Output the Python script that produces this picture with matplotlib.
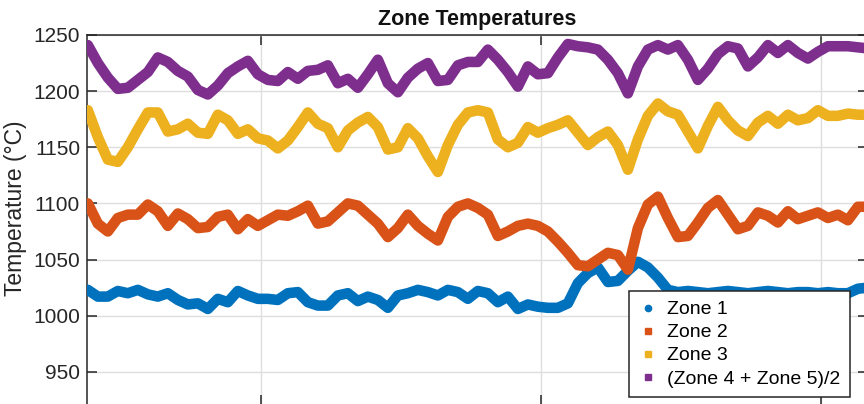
import numpy as np
import matplotlib
matplotlib.use("Agg")
import matplotlib.pyplot as plt
from matplotlib.lines import Line2D

plt.rcParams["font.family"] = ["Liberation Sans", "DejaVu Sans"]

# Sampling times (days), one reading every 1/28 day
time_days = 0.382 + np.arange(79) / 28

zone1 = [1023, 1017, 1017, 1022, 1020, 1023, 1019, 1017, 1020, 1014,
         1010, 1011, 1006, 1015, 1012, 1022, 1018, 1015, 1015, 1014,
         1020, 1021, 1012, 1009, 1009, 1018, 1020, 1013, 1017, 1014,
         1007, 1018, 1020, 1023, 1021, 1018, 1023, 1021, 1015, 1022,
         1020, 1012, 1017, 1006, 1010, 1008, 1007, 1007, 1011, 1029,
         1038, 1043, 1030, 1031, 1040, 1048, 1043, 1034, 1023, 1021,
         1022, 1021, 1020, 1021, 1022, 1021, 1020, 1021, 1022, 1021,
         1020, 1021, 1021, 1020, 1021, 1020, 1020, 1024, 1025]

zone2 = [1100, 1082, 1075, 1087, 1090, 1090, 1099, 1093, 1080, 1091,
         1086, 1078, 1079, 1088, 1090, 1077, 1086, 1080, 1085, 1090,
         1089, 1093, 1098, 1082, 1084, 1092, 1100, 1098, 1090, 1082,
         1070, 1078, 1090, 1080, 1073, 1067, 1088, 1097, 1100, 1096,
         1090, 1071, 1075, 1080, 1082, 1080, 1075, 1066, 1056, 1045,
         1044, 1050, 1056, 1054, 1041, 1078, 1099, 1106, 1087, 1070,
         1071, 1083, 1096, 1103, 1090, 1077, 1080, 1092, 1089, 1083,
         1093, 1086, 1089, 1092, 1087, 1090, 1085, 1097, 1097]

zone3 = [1183, 1159, 1139, 1137, 1150, 1166, 1181, 1181, 1164, 1166,
         1171, 1163, 1162, 1179, 1174, 1162, 1166, 1158, 1156, 1149,
         1156, 1168, 1181, 1171, 1167, 1150, 1165, 1172, 1177, 1168,
         1148, 1150, 1167, 1158, 1142, 1128, 1152, 1170, 1181, 1183,
         1181, 1157, 1150, 1154, 1168, 1163, 1167, 1170, 1174, 1163,
         1152, 1159, 1164, 1152, 1130, 1157, 1178, 1189, 1182, 1179,
         1164, 1149, 1169, 1186, 1174, 1165, 1160, 1172, 1178, 1171,
         1179, 1174, 1176, 1183, 1178, 1178, 1180, 1179, 1179]

zone45_avg = [1241, 1225, 1212, 1202, 1203, 1210, 1217, 1230, 1226, 1218,
              1213, 1201, 1197, 1205, 1216, 1222, 1227, 1215, 1210, 1209,
              1217, 1211, 1218, 1219, 1223, 1207, 1211, 1203, 1215, 1228,
              1207, 1199, 1212, 1220, 1225, 1209, 1210, 1223, 1226, 1226,
              1237, 1228, 1217, 1204, 1222, 1215, 1216, 1230, 1242, 1240,
              1239, 1237, 1228, 1216, 1198, 1222, 1237, 1241, 1237, 1241,
              1228, 1210, 1220, 1233, 1240, 1238, 1222, 1230, 1241, 1234,
              1241, 1234, 1229, 1235, 1240, 1240, 1240, 1239, 1238]

labels = ["Zone 1", "Zone 2", "Zone 3", "(Zone 4 + Zone 5)/2"]
colors = ["#0072BD", "#D95319", "#EDB120", "#7E2F8E"]
markers = ["o", "s", "s", "s"]
series = [zone1, zone2, zone3, zone45_avg]

W, H = 864, 404
fig = plt.figure(figsize=(W / 100, H / 100), dpi=100)
ax_left, ax_right, ax_top, ax_bottom = 87, 868, 35, 405.5
ax = fig.add_axes([ax_left / W, 1 - ax_bottom / H,
                   (ax_right - ax_left) / W, (ax_bottom - ax_top) / H])

for vals, col in zip(series, colors):
    ax.plot(time_days, vals, color=col, lw=7.6,
            solid_joinstyle="round", solid_capstyle="round", zorder=3)

ax.set_xlim(0.379, 3.168)
ax.set_ylim(920, 1250)
ax.set_xticks([1, 2, 3])
ax.set_yticks(np.arange(950, 1251, 50))
ax.tick_params(axis="x", labelbottom=False)
ax.tick_params(direction="in", length=7, width=1.1, colors="#262626",
               top=True, right=True, labelsize=15, pad=5)
ax.grid(True, color="#dedede", lw=1.0, zorder=0)
ax.set_axisbelow(True)
for sp in ax.spines.values():
    sp.set_color("#262626")
    sp.set_linewidth(1.1)

ax.set_title("Zone Temperatures", fontsize=15.5, fontweight="bold",
             color="#111111", pad=7)
ax.set_ylabel("Temperature (°C)", fontsize=16.5, color="#262626")
ax.yaxis.set_label_coords((27 - ax_left) / (ax_right - ax_left),
                          (ax_bottom - 208) / (ax_bottom - ax_top))

handles = [Line2D([], [], ls="none", marker=m, color=c, markersize=4.5)
           for m, c in zip(markers, colors)]
leg = ax.legend(handles, labels, loc="upper left",
                bbox_to_anchor=(629 / W, 1 - 291 / H), bbox_transform=fig.transFigure,
                fontsize=14, frameon=True, fancybox=False, framealpha=1,
                edgecolor="#262626", handlelength=1.0, handletextpad=0.45,
                labelspacing=0.28, borderpad=0.5, borderaxespad=0)
leg.get_frame().set_linewidth(1.1)
leg.set_zorder(10)

fig.savefig("out.png", dpi=100)
